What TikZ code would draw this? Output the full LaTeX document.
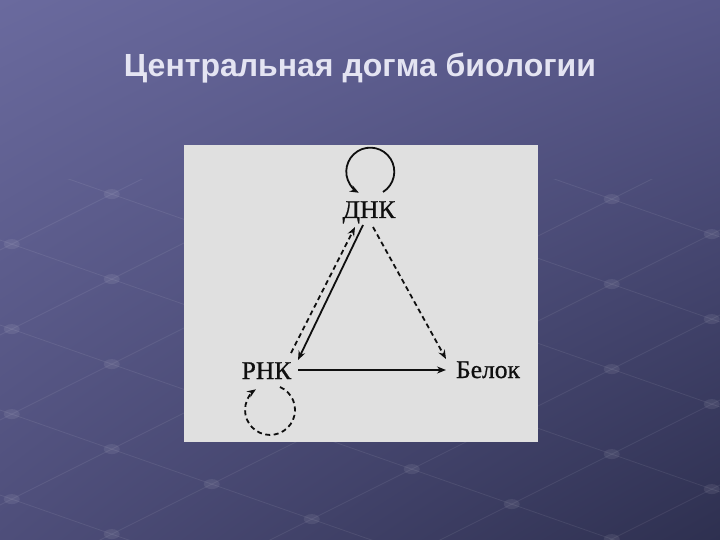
\documentclass[tikz,border=0pt]{standalone}
\usepackage{fontspec}
\setmainfont{Liberation Serif}
\newfontfamily\titlefont{Liberation Sans}
\newfontfamily\lblfont[FakeBold=0.8]{Liberation Serif}
\usetikzlibrary{arrows.meta,calc,shadings}
\definecolor{bgTL}{RGB}{106,106,158}
\definecolor{bgTR}{RGB}{88,88,138}
\definecolor{bgBL}{RGB}{78,78,122}
\definecolor{bgBR}{RGB}{46,48,80}
\definecolor{panel}{RGB}{224,224,224}
\definecolor{titlecol}{RGB}{228,228,242}
\definecolor{ink}{RGB}{15,15,15}
\tikzset{
  lbl/.style={font=\lblfont\fontsize{25.5}{25.5}\selectfont, inner sep=0pt, anchor=base, text=ink},
  ttl/.style={font=\titlefont\bfseries\fontsize{32}{32}\selectfont, inner sep=0pt, anchor=base, text=titlecol},
  conn/.style={draw=ink, line width=1.8pt, -{Stealth[length=9pt,width=7pt]}},
  dconn/.style={conn, dash pattern=on 5pt off 3.5pt},
  gridline/.style={draw=white, opacity=0.08, line width=0.8pt},
  ball/.style={fill=white, opacity=0.08}
}
\begin{document}
\begin{tikzpicture}[x=1pt,y=-1pt]
\useasboundingbox (0,0) rectangle (720,540);
\shade[upper left=bgTL, upper right=bgTR, lower left=bgBL, lower right=bgBR] (0,0) rectangle (720,540);
% faint perspective grid of the slide background
\begin{scope}
\clip (0,180) rectangle (720,540);
\foreach \c in {250,335,...,1100} {
  \draw[gridline] (0,\c) -- (720,\c-360);
}
\foreach \c in {-100,-15,...,540} {
  \draw[gridline] (0,\c) -- (720,\c+252);
}
\foreach \a in {250,335,...,1100} {
  \foreach \b in {-100,-15,...,540} {
    \pgfmathsetmacro{\xx}{(\a-\b)/0.85}
    \pgfmathsetmacro{\yy}{\b+0.35*\xx}
    \fill[ball] (\xx,\yy) ellipse[x radius=8, y radius=5];
  }
}
\end{scope}
% title
\node[ttl] (title) at (360,77) {Центральная догма биологии};
% panel
\fill[panel] (184,145) rectangle (538,442);
% labels
\node[lbl] (dnk) at (369,218) {ДНК};
\node[lbl] (rnk) at (266.5,379) {РНК};
\node[lbl] (bel) at (488,378) {Белок};
% connectors
\draw[conn] ($(dnk.base)+(-6,7)$) -- ($(rnk.base)+(31.5,-19)$);
\draw[dconn] ($(rnk.base)+(24.5,-26)$) -- ($(dnk.base)+(-14,9)$);
\draw[dconn] ($(dnk.base)+(4,9)$) -- ($(bel.base)+(-42,-19)$);
\draw[conn] ($(rnk.base)+(31.5,-9)$) -- ($(bel.base)+(-42,-8)$);
% self loops
\draw[conn] ($(dnk.base)+(14,-26)$) arc[start angle=58, end angle=-241.5, radius=24];
\draw[dconn] ($(rnk.base)+(13.5,8)$) arc[start angle=-66.5, end angle=235.7, radius=25];
\end{tikzpicture}
\end{document}
